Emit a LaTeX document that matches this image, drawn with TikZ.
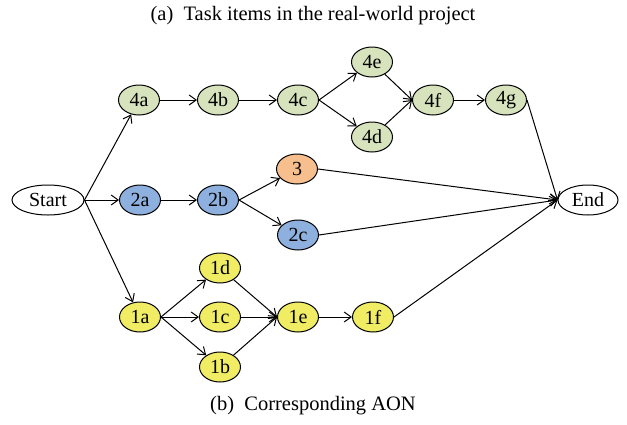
\documentclass[tikz,border=0pt]{standalone}
\usepackage{fontspec}
\setmainfont{Liberation Serif}
\usetikzlibrary{arrows.meta,shapes.geometric}
\definecolor{cgreen}{RGB}{214,227,188}
\definecolor{cblue}{RGB}{142,176,222}
\definecolor{corange}{RGB}{247,190,142}
\definecolor{cyellow}{RGB}{240,236,100}
\begin{document}
\begin{tikzpicture}[x=1pt,y=-1pt,
  task/.style={ellipse,draw,line width=1pt,minimum width=41pt,minimum height=30pt,inner sep=0pt,font=\fontsize{20}{20}\selectfont},
  term/.style={task,fill=white,minimum width=72pt},
  gtask/.style={task,fill=cgreen},
  btask/.style={task,fill=cblue},
  otask/.style={task,fill=corange},
  ytask/.style={task,fill=cyellow},
  arr/.style={-{Straight Barb[length=7pt,width=10pt]},line width=1pt},
  captext/.style={font=\fontsize{20.5}{20.5}\selectfont}]
\useasboundingbox (0,0) rectangle (627,424);
\node[captext] (ta) at (313,16) {(a)\ \ Task items in the real-world project};
\node[captext] (tb) at (313,406) {(b)\ \ Corresponding AON};
\node[term] (S) at (48,200) {Start};
\node[term,minimum width=60pt] (E) at (588,200) {End};
\node[gtask] (n4a) at (139,100) {4a};
\node[gtask] (n4b) at (218,100) {4b};
\node[gtask] (n4c) at (298,100) {4c};
\node[gtask] (n4e) at (372,62) {4e};
\node[gtask] (n4d) at (372,137) {4d};
\node[gtask] (n4f) at (433,100) {4f};
\node[gtask] (n4g) at (506,100) {4g};
\node[btask] (n2a) at (140,200) {2a};
\node[btask] (n2b) at (218,200) {2b};
\node[otask] (n3) at (297,169) {3};
\node[btask] (n2c) at (298,235) {2c};
\node[ytask] (n1a) at (140,317) {1a};
\node[ytask] (n1d) at (220,268) {1d};
\node[ytask] (n1c) at (220,317) {1c};
\node[ytask] (n1b) at (220,367) {1b};
\node[ytask] (n1e) at (298,317) {1e};
\node[ytask] (n1f) at (373,317) {1f};
\draw[arr] (S.east) -- (n4a);
\draw[arr] (S.east) -- (n2a);
\draw[arr] (S.east) -- (n1a);
\draw[arr] (n4a) -- (n4b);
\draw[arr] (n4b) -- (n4c);
\draw[arr] (n4c.east) -- (n4e);
\draw[arr] (n4c.east) -- (n4d);
\draw[arr] (n4e) -- (n4f.west);
\draw[arr] (n4d) -- (n4f.west);
\draw[arr] (n4f) -- (n4g);
\draw[arr] (n4g.east) -- (E.west);
\draw[arr] (n2a) -- (n2b);
\draw[arr] (n2b.east) -- (n3);
\draw[arr] (n2b.east) -- (n2c);
\draw[arr] (n3.east) -- (E.west);
\draw[arr] (n2c.east) -- (E.west);
\draw[arr] (n1a.east) -- (n1d);
\draw[arr] (n1a.east) -- (n1c);
\draw[arr] (n1a.east) -- (n1b);
\draw[arr] (n1d) -- (n1e.west);
\draw[arr] (n1c) -- (n1e.west);
\draw[arr] (n1b) -- (n1e.west);
\draw[arr] (n1e) -- (n1f);
\draw[arr] (n1f.east) -- (E.west);
\end{tikzpicture}
\end{document}
